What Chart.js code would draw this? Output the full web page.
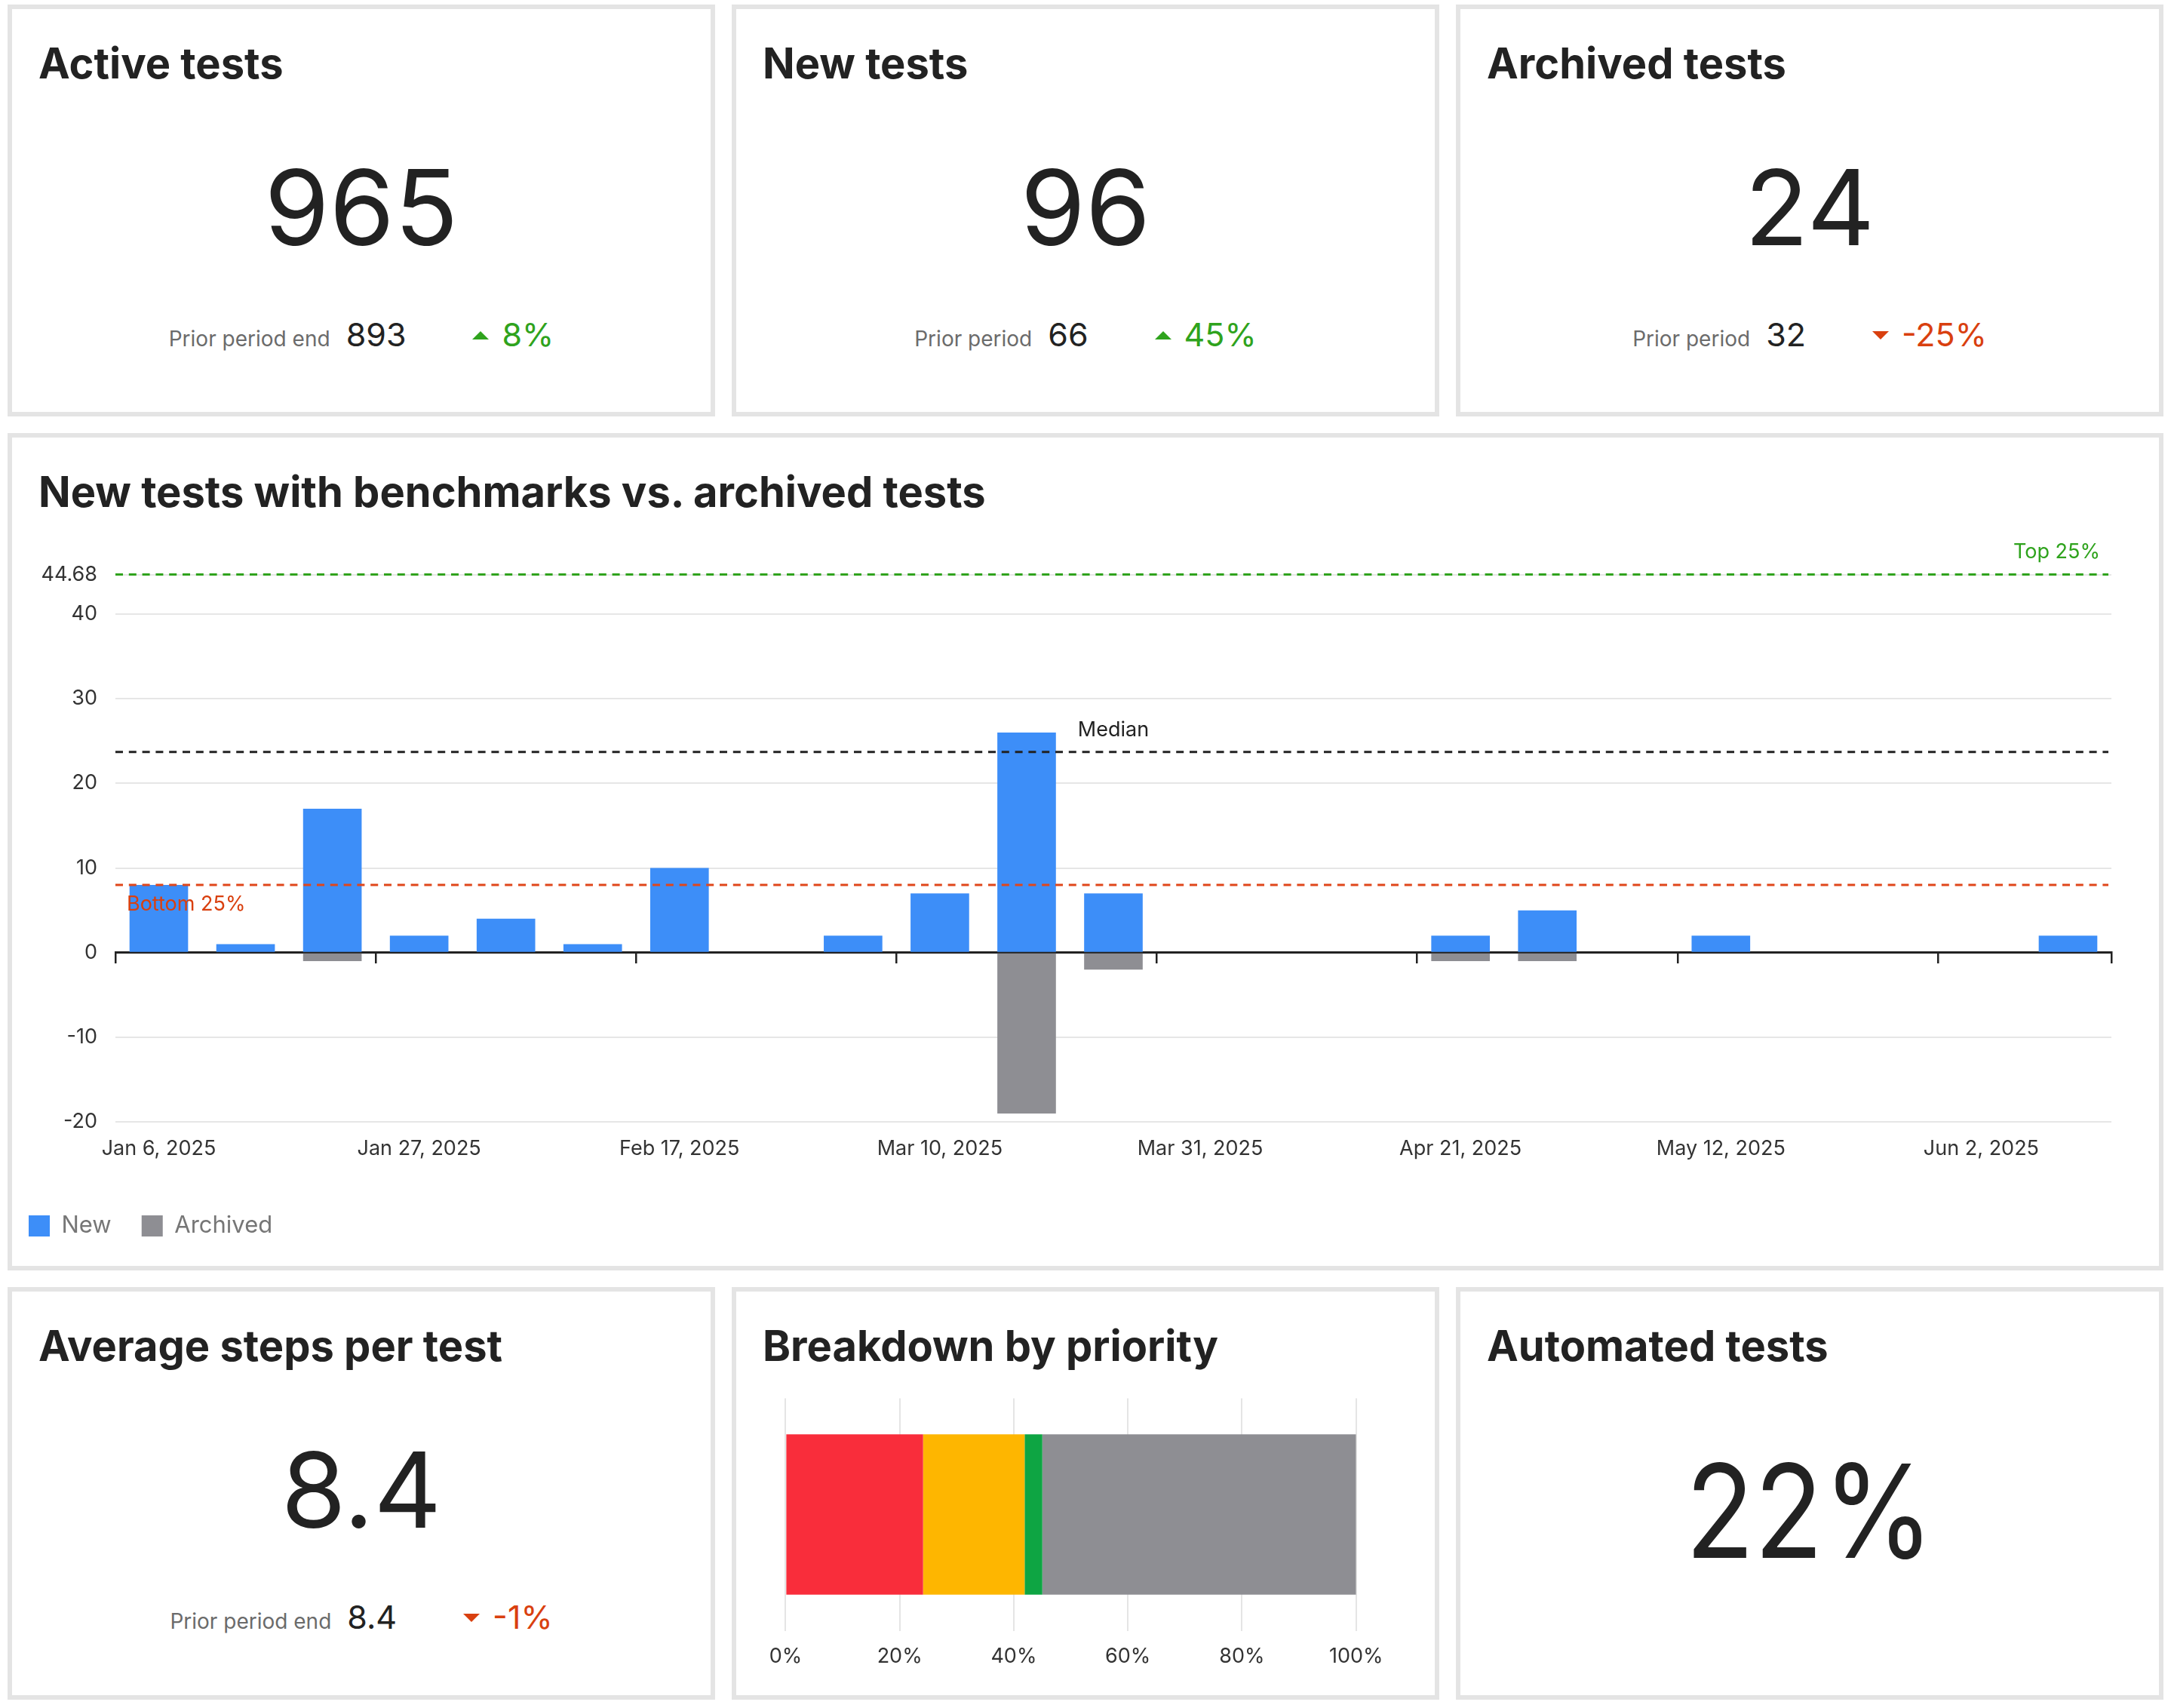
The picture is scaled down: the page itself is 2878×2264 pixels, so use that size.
<!DOCTYPE html>
<html lang="en">
<head>
<meta charset="utf-8">
<title>Test metrics</title>
<script src="https://cdn.jsdelivr.net/npm/chart.js@4.4.1/dist/chart.umd.min.js"></script>
<style>
  html, body { margin: 0; padding: 0; background: #fff; }
  body { position: relative; width: 2878px; height: 2264px; overflow: hidden; font-family: Inter, "Noto Sans", sans-serif; color: #222; }
  .panel { position: absolute; box-sizing: border-box; border: 6px solid #e4e4e4; }
  .title { position: absolute; left: 35px; top: 44px; font-size: 56px; font-weight: 700; line-height: 1; white-space: nowrap; color: #222; }
  .big { position: absolute; left: 0; right: 0; top: 193px; text-align: center; font-size: 139px; line-height: 1; color: #222; }
  .big.huge { top: 204px; font-size: 172px; transform: scaleX(0.87); }
  .sub { position: absolute; left: 0; right: 0; top: 410px; display: flex; justify-content: center; align-items: baseline; line-height: 1; white-space: nowrap; }
  .sub .lbl { font-size: 28px; color: #6b6b6b; margin-right: 21px; }
  .sub .prev { font-size: 43px; color: #222; margin-right: 88px; }
  .sub .tri { display: inline-block; width: 0; height: 0; border-left: 11.5px solid transparent; border-right: 11.5px solid transparent; position: relative; top: -9px; margin-right: 17px; }
  .tri.up { border-bottom: 11px solid #2fa31d; }
  .tri.down { border-top: 11px solid #d9400f; }
  .sub .chg { font-size: 43px; }
  .chg.up { color: #2fa31d; }
  .chg.down { color: #d9400f; }
  canvas { position: absolute; }
</style>
</head>
<body>
<div class="panel" id="kpi0" style="left:10px;top:6px;width:938px;height:546px"></div>
<div class="panel" id="kpi1" style="left:970px;top:6px;width:938px;height:546px"></div>
<div class="panel" id="kpi2" style="left:1930px;top:6px;width:938px;height:546px"></div>
<div class="panel" style="left:10px;top:574px;width:2858px;height:1110px">
  <div class="title">New tests with benchmarks vs. archived tests</div>
</div>
<div class="panel" id="kpi3" style="left:10px;top:1706px;width:938px;height:547px"></div>
<div class="panel" style="left:970px;top:1706px;width:938px;height:547px">
  <div class="title">Breakdown by priority</div>
</div>
<div class="panel" style="left:1930px;top:1706px;width:938px;height:547px">
  <div class="title">Automated tests</div>
  <div class="big huge" id="automated"></div>
</div>

<canvas id="trendChart" width="2852" height="960" style="left:-2px;top:700px;width:2852px;height:960px"></canvas>
<canvas id="priorityChart" width="880" height="420" style="left:980px;top:1820px;width:880px;height:420px"></canvas>

<script>
// KPI cards
const kpiTitles = ['Active tests', 'New tests', 'Archived tests', 'Average steps per test'];
const kpiValues = ['965', '96', '24', '8.4'];
const kpiPriorLabels = ['Prior period end', 'Prior period', 'Prior period', 'Prior period end'];
const kpiPriorValues = ['893', '66', '32', '8.4'];
const kpiChanges = [8, 45, -25, -1];
const automatedShare = 22;

// weekly new / archived tests
const weekLabels = [
  'Jan 6, 2025', 'Jan 13, 2025', 'Jan 20, 2025', 'Jan 27, 2025', 'Feb 3, 2025', 'Feb 10, 2025',
  'Feb 17, 2025', 'Feb 24, 2025', 'Mar 3, 2025', 'Mar 10, 2025', 'Mar 17, 2025', 'Mar 24, 2025',
  'Mar 31, 2025', 'Apr 7, 2025', 'Apr 14, 2025', 'Apr 21, 2025', 'Apr 28, 2025', 'May 5, 2025',
  'May 12, 2025', 'May 19, 2025', 'May 26, 2025', 'Jun 2, 2025', 'Jun 9, 2025'
];
const newTests = [8, 1, 17, 2, 4, 1, 10, 0, 2, 7, 26, 7, 0, 0, 0, 2, 5, 0, 2, 0, 0, 0, 2];
const archivedTests = [0, 0, -1, 0, 0, 0, 0, 0, 0, 0, -19, -2, 0, 0, 0, -1, -1, 0, 0, 0, 0, 0, 0];
const yTicks = [-20, -10, 0, 10, 20, 30, 40, 44.68];
const benchmarkNames = ['Top 25%', 'Median', 'Bottom 25%'];
const benchmarkValues = [44.68, 23.7, 8];

// priority breakdown (% of active tests)
const priorityLabels = ['High', 'Medium', 'Low', 'None'];
const priorityShares = [24.1, 17.8, 3.1, 55.0];
const percentTicks = [0, 20, 40, 60, 80, 100];

const GREEN = '#2fa31d';
const RED = '#d9400f';
const benchmarkColors = [GREEN, '#222222', '#e0461b'];
const priorityColors = ['#f92d3b', '#feb600', '#0ea543', '#8e8e93'];

kpiTitles.forEach((title, i) => {
  const el = document.getElementById('kpi' + i);
  const dir = kpiChanges[i] >= 0 ? 'up' : 'down';
  el.innerHTML =
    '<div class="title">' + title + '</div>' +
    '<div class="big">' + kpiValues[i] + '</div>' +
    '<div class="sub"><span class="lbl">' + kpiPriorLabels[i] + '</span>' +
    '<span class="prev">' + kpiPriorValues[i] + '</span>' +
    '<i class="tri ' + dir + '"></i>' +
    '<span class="chg ' + dir + '">' + kpiChanges[i] + '%</span></div>';
});
document.getElementById('automated').textContent = automatedShare + '%';

Chart.defaults.font.family = 'Inter, "Noto Sans", sans-serif';

// dashed benchmark lines with their captions
const benchmarkPlugin = {
  id: 'benchmarks',
  afterDatasetsDraw(chart) {
    const { ctx, chartArea, scales: { y } } = chart;
    ctx.save();
    ctx.font = '27px Inter';
    benchmarkValues.forEach((v, i) => {
      const py = y.getPixelForValue(v);
      ctx.strokeStyle = benchmarkColors[i];
      ctx.lineWidth = 3;
      ctx.setLineDash([10, 7.8]);
      ctx.beginPath();
      ctx.moveTo(chartArea.left, py);
      ctx.lineTo(chartArea.right - 4, py);
      ctx.stroke();

      ctx.fillStyle = i === 2 ? RED : benchmarkColors[i];
      ctx.textBaseline = 'alphabetic';
      if (i === 0) {
        ctx.textAlign = 'right';
        ctx.fillText(benchmarkNames[i], chartArea.right - 15, py - 22);
      } else if (i === 1) {
        ctx.textAlign = 'center';
        ctx.fillText(benchmarkNames[i], (chartArea.left + chartArea.right) / 2, py - 21);
      } else {
        ctx.textAlign = 'left';
        ctx.fillText(benchmarkNames[i], chartArea.left + 15, py + 34);
      }
    });
    ctx.restore();
  }
};

new Chart(document.getElementById('trendChart'), {
  type: 'bar',
  data: {
    labels: weekLabels,
    datasets: [
      { label: 'New', data: newTests, backgroundColor: '#3d8ef8', borderWidth: 0 },
      { label: 'Archived', data: archivedTests, backgroundColor: '#8e8e93', borderWidth: 0 }
    ]
  },
  options: {
    responsive: false,
    animation: false,
    layout: { padding: { left: 0, right: 51, top: 61.5, bottom: 9.5 } },
    datasets: { bar: { categoryPercentage: 0.75, barPercentage: 0.9 } },
    plugins: {
      legend: {
        position: 'bottom',
        align: 'start',
        labels: { boxWidth: 28, boxHeight: 28, padding: 40, color: '#767676', font: { size: 31 } }
      },
      tooltip: { enabled: false }
    },
    scales: {
      x: {
        stacked: true,
        offset: true,
        grid: { display: false, drawTicks: false },
        border: { display: false },
        ticks: {
          autoSkip: false,
          maxRotation: 0,
          padding: 20,
          color: '#333',
          font: { size: 27 },
          callback: (value, index) => (index % 3 === 0 ? weekLabels[index] : '')
        },
        afterFit: (scale) => { scale.height += 10; }
      },
      zeroAxis: {
        axis: 'x',
        type: 'category',
        position: { y: 0 },
        offset: true,
        grid: {
          offset: true,
          drawOnChartArea: false,
          drawTicks: true,
          tickLength: 13,
          lineWidth: 2.5,
          // tick marks only every third week and at the right end
          color: (ctx) => (ctx.index === undefined || ctx.index % 3 === 0 ? '#222' : 'rgba(0,0,0,0)')
        },
        border: { display: true, color: '#222', width: 3 },
        ticks: { display: false }
      },
      y: {
        stacked: true,
        min: -20,
        max: 44.68,
        afterBuildTicks: (scale) => { scale.ticks = yTicks.map(v => ({ value: v })); },
        afterFit: (scale) => { scale.width = 155; },
        grid: { color: '#e6e6e6', lineWidth: 2, drawTicks: false },
        border: { display: false },
        ticks: { padding: 24, color: '#333', font: { size: 27 }, callback: (v) => String(v) }
      }
    }
  },
  plugins: [benchmarkPlugin]
});

new Chart(document.getElementById('priorityChart'), {
  type: 'bar',
  data: {
    labels: ['Priority'],
    datasets: priorityLabels.map((label, i) => ({
      label,
      data: [priorityShares[i]],
      backgroundColor: priorityColors[i],
      borderWidth: 0
    }))
  },
  options: {
    indexAxis: 'y',
    responsive: false,
    animation: false,
    layout: { padding: { left: 61.4, right: 62.3, top: 33.5, bottom: 10 } },
    datasets: { bar: { categoryPercentage: 1, barPercentage: 0.69 } },
    plugins: { legend: { display: false }, tooltip: { enabled: false } },
    scales: {
      x: {
        stacked: true,
        min: 0,
        max: 100,
        afterBuildTicks: (scale) => { scale.ticks = percentTicks.map(v => ({ value: v })); },
        grid: { color: '#e5e5e5', lineWidth: 2, drawTicks: false },
        border: { display: false },
        ticks: { padding: 18, color: '#333', font: { size: 27 }, callback: (v) => v + '%' }
      },
      y: { stacked: true, display: false }
    }
  }
});
</script>
</body>
</html>
